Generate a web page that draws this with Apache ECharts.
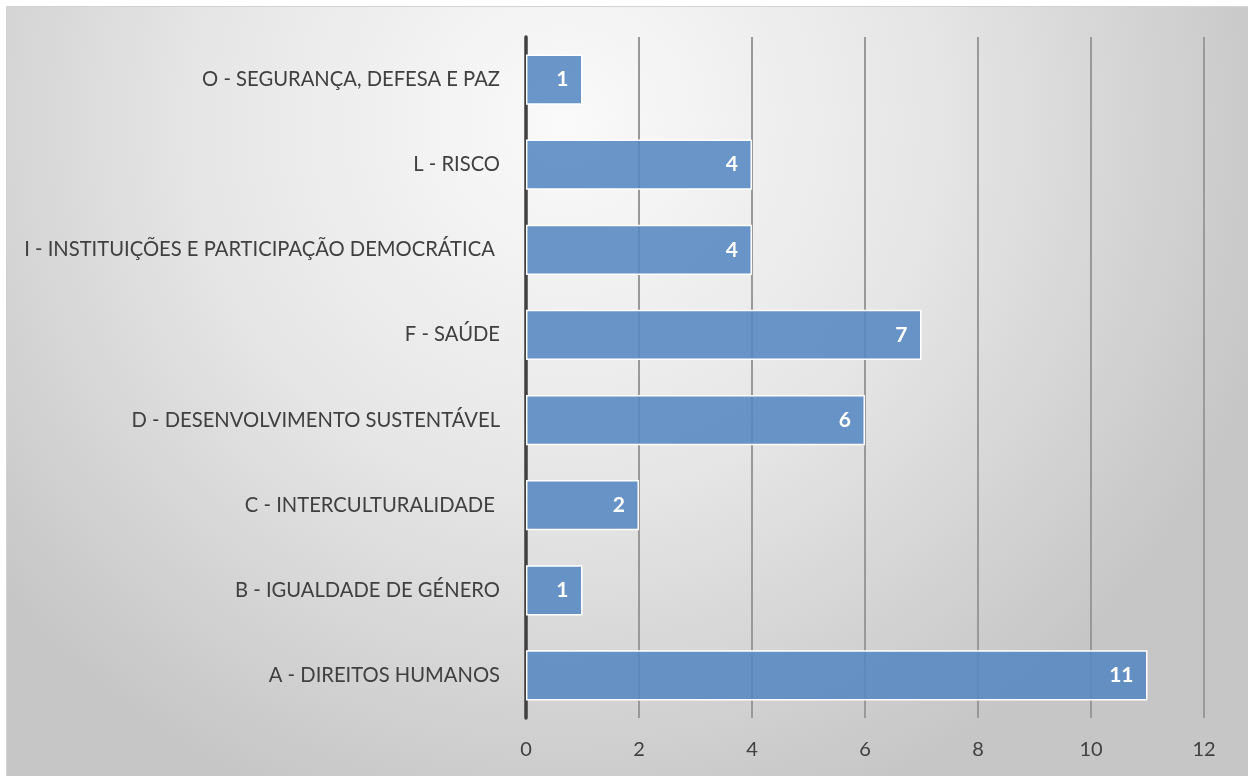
<!DOCTYPE html>
<html lang="pt">
<head>
    <meta charset="UTF-8">
    <title>Temas</title>
    <script src="https://cdn.jsdelivr.net/npm/echarts@6/dist/echarts.min.js"></script>
    <style>
        html, body { margin: 0; padding: 0; background: #fff; }
        #container { width: 1248px; height: 776px; }
    </style>
</head>
<body>
<div id="container"></div>
<script type="text/javascript">
    // categorias de baixo para cima
    var categorias = [
        'A - DIREITOS HUMANOS',
        'B - IGUALDADE DE GÉNERO',
        'C - INTERCULTURALIDADE ',
        'D - DESENVOLVIMENTO SUSTENTÁVEL',
        'F - SAÚDE',
        'I - INSTITUIÇÕES E PARTICIPAÇÃO DEMOCRÁTICA ',
        'L - RISCO',
        'O - SEGURANÇA, DEFESA E PAZ'
    ];
    var valores = [11, 1, 2, 6, 7, 4, 4, 1];

    var dom = document.getElementById("container");
    var myChart = echarts.init(dom);
    var option = {
        animation: false,
        graphic: [{
            type: 'rect',
            left: 6,
            top: 6,
            z: -10,
            shape: { width: 1242, height: 770 },
            style: {
                fill: new echarts.graphic.RadialGradient(0.45, 0.15, 0.95, [
                    { offset: 0, color: '#fafafa' },
                    { offset: 0.5, color: '#e6e6e6' },
                    { offset: 1, color: '#c6c6c6' }
                ]),
                stroke: '#d2d2d2',
                lineWidth: 1
            }
        }],
        grid: {
            left: 526,
            right: 44,
            top: 37,
            bottom: 58
        },
        xAxis: {
            type: 'value',
            min: 0,
            max: 12,
            interval: 2,
            axisLine: { show: false },
            axisTick: { show: false },
            axisLabel: {
                color: '#404040',
                fontFamily: 'Lato',
                fontSize: 20,
                margin: 22
            },
            splitLine: {
                lineStyle: { color: '#999999', width: 2 }
            }
        },
        yAxis: {
            type: 'category',
            data: categorias,
            axisLine: { lineStyle: { color: '#404040', width: 3.5 } },
            axisTick: { show: false },
            axisLabel: {
                color: '#404040',
                fontFamily: 'Lato',
                fontSize: 20.2,
                margin: 26
            }
        },
        series: [{
            type: 'bar',
            data: valores,
            barCategoryGap: '41%',
            itemStyle: {
                color: 'rgba(86,135,194,0.88)',
                borderColor: '#ffffff',
                borderWidth: 1.5
            },
            label: {
                show: true,
                position: 'insideRight',
                distance: 14,
                color: '#ffffff',
                fontFamily: 'Lato',
                fontWeight: 'bold',
                fontSize: 21
            }
        }]
    };
    myChart.setOption(option, true);
</script>
</body>
</html>
